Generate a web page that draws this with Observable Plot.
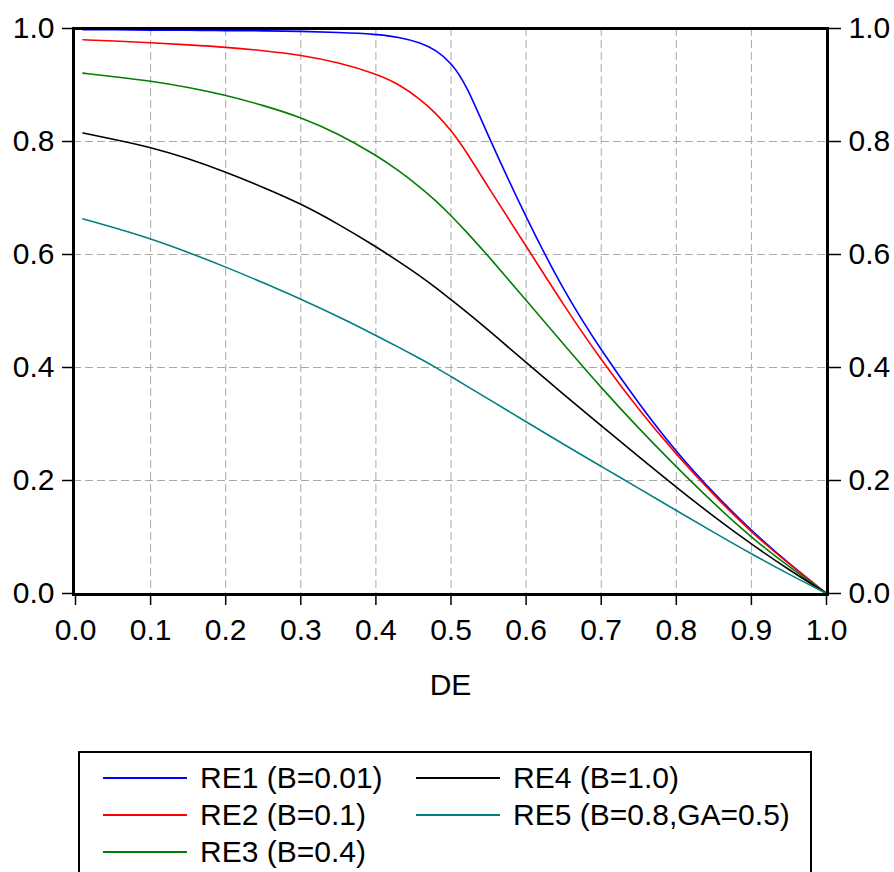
<!DOCTYPE html>
<html>
<head>
<meta charset="utf-8">
<script src="https://cdn.jsdelivr.net/npm/d3@7"></script>
<script src="https://cdn.jsdelivr.net/npm/@observablehq/plot@0.6"></script>
<style>
  html, body { margin: 0; padding: 0; background: #fff; }
  #wrap { position: relative; width: 894px; height: 872px; overflow: hidden; font-family: "Liberation Sans", Arial, sans-serif; }
  #legend { position: absolute; left: 78px; top: 751px; width: 734px; height: 130px; border: 2px solid #000; box-sizing: border-box; background: #fff; }
  .item { position: absolute; height: 37px; display: flex; align-items: center; font-size: 30px; line-height: 37px; color: #000; white-space: nowrap; }
  .swatch { display: inline-block; width: 84px; height: 2px; margin-right: 13px; }
</style>
</head>
<body>
<div id="wrap"><div id="chart"></div><div id="legend"></div></div>
<script>
// ---- data ----
const DE  = [0.01,0.05,0.1,0.15,0.2,0.25,0.3,0.35,0.4,0.43,0.46,0.48,0.5,0.52,0.55,0.6,0.65,0.7,0.75,0.8,0.85,0.9,0.95,1.0];
const RE1 = [0.998,0.998,0.997,0.997,0.996,0.996,0.995,0.993,0.990,0.985,0.975,0.962,0.940,0.902,0.808,0.665,0.535,0.430,0.336,0.250,0.177,0.111,0.053,0];
const RE2 = [0.980,0.978,0.975,0.971,0.967,0.961,0.953,0.940,0.920,0.902,0.874,0.850,0.820,0.783,0.718,0.615,0.510,0.413,0.325,0.246,0.174,0.108,0.052,0];
const RE3 = [0.921,0.915,0.907,0.896,0.882,0.864,0.843,0.814,0.776,0.749,0.718,0.695,0.669,0.641,0.597,0.519,0.441,0.364,0.292,0.224,0.159,0.099,0.047,0];
const RE4 = [0.815,0.804,0.790,0.770,0.746,0.719,0.690,0.654,0.614,0.588,0.561,0.541,0.520,0.499,0.466,0.409,0.352,0.297,0.242,0.188,0.136,0.087,0.042,0];
const RE5 = [0.663,0.648,0.628,0.604,0.578,0.550,0.521,0.490,0.457,0.436,0.415,0.400,0.384,0.368,0.344,0.304,0.264,0.225,0.186,0.147,0.108,0.070,0.034,0];

const seriesNames  = ["RE1 (B=0.01)", "RE2 (B=0.1)", "RE3 (B=0.4)", "RE4 (B=1.0)", "RE5 (B=0.8,GA=0.5)"];
const seriesValues = [RE1, RE2, RE3, RE4, RE5];
const seriesColors = ["#0000ff", "#ff0000", "#008000", "#000000", "#008080"];

const xTicks = [0,0.1,0.2,0.3,0.4,0.5,0.6,0.7,0.8,0.9,1.0];
const yTicks = [0,0.2,0.4,0.6,0.8,1.0];
const xLabel = "DE";

// ---- build table ----
const rows = [];
seriesNames.forEach((name, s) => {
  DE.forEach((d, i) => rows.push({series: name, DE: d, value: seriesValues[s][i]}));
});

const fmt = d3.format(".1f");
const gridStyle = {stroke: "#a8a8a8", strokeOpacity: 1, strokeWidth: 1, strokeDasharray: "8,4"};
const innerX = xTicks.slice(1, -1);
const innerY = yTicks.slice(1, -1);

const chart = Plot.plot({
  width: 894,
  height: 740,
  marginLeft: 73,
  marginRight: 67,
  marginTop: 28,
  marginBottom: 146,
  style: {fontFamily: "'Liberation Sans', Arial, sans-serif", fontSize: "30px", color: "#000", background: "#fff"},
  x: {domain: [0, 1], insetLeft: 2, insetRight: 1},
  y: {domain: [0, 1], insetBottom: 1},
  color: {domain: seriesNames, range: seriesColors},
  marks: [
    Plot.gridX(innerX, gridStyle),
    Plot.gridY(innerY, gridStyle),
    Plot.line(rows, {x: "DE", y: "value", z: "series", stroke: "series", strokeWidth: 1.6, curve: "basis"}),
    Plot.axisY(yTicks, {anchor: "left", tickSize: 11, tickPadding: 8, tickFormat: fmt, label: null, strokeWidth: 1.5}),
    Plot.axisY(yTicks, {anchor: "right", tickSize: 13, tickPadding: 8, tickFormat: fmt, label: null, strokeWidth: 1.5}),
    Plot.axisX(xTicks, {anchor: "bottom", tickSize: 11, tickPadding: 13, tickFormat: fmt, label: xLabel, labelAnchor: "center", labelArrow: "none", labelOffset: 100, strokeWidth: 1.5}),
    Plot.frame({stroke: "#000", strokeWidth: 3})
  ]
});
document.getElementById("chart").appendChild(chart);

// ---- legend (3 rows, column-major) ----
const legend = document.getElementById("legend");
const nRows = 3;
seriesNames.forEach((name, i) => {
  const col = Math.floor(i / nRows), row = i % nRows;
  const item = document.createElement("div");
  item.className = "item";
  item.style.left = (23 + col * 313) + "px";
  item.style.top = (6 + row * 37) + "px";
  const sw = document.createElement("span");
  sw.className = "swatch";
  sw.style.background = seriesColors[i];
  const tx = document.createElement("span");
  tx.textContent = name;
  item.appendChild(sw);
  item.appendChild(tx);
  legend.appendChild(item);
});
</script>
</body>
</html>
